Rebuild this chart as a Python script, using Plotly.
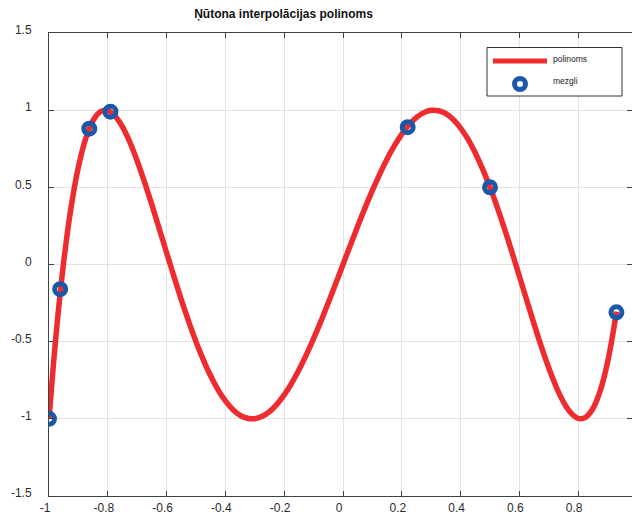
import plotly.graph_objects as go

# Interpolation nodes (mezgli)
node_x = [-1.0, -0.962, -0.863, -0.791, 0.22, 0.50, 0.93]
node_y = [-1.0, -0.16, 0.88, 0.99, 0.89, 0.50, -0.31]

# Sampled values of the interpolation polynomial (polinoms)
poly_x = [-1.0, -0.975, -0.95, -0.925, -0.9, -0.875, -0.85, -0.825, -0.8, -0.775,
          -0.75, -0.725, -0.7, -0.675, -0.65, -0.625, -0.6, -0.575, -0.55, -0.525,
          -0.5, -0.475, -0.45, -0.425, -0.4, -0.375, -0.35, -0.325, -0.3, -0.275,
          -0.25, -0.225, -0.2, -0.175, -0.15, -0.125, -0.1, -0.075, -0.05, -0.025,
          0.0, 0.025, 0.05, 0.075, 0.1, 0.125, 0.15, 0.175, 0.2, 0.225,
          0.25, 0.275, 0.3, 0.325, 0.35, 0.375, 0.4, 0.425, 0.45, 0.475,
          0.5, 0.525, 0.55, 0.575, 0.6, 0.625, 0.65, 0.675, 0.7, 0.725,
          0.75, 0.775, 0.8, 0.825, 0.85, 0.875, 0.9, 0.925, 0.93]
poly_y = [-1.0, -0.435, 0.017, 0.369, 0.632, 0.817, 0.933, 0.990, 0.997, 0.961,
          0.891, 0.792, 0.671, 0.534, 0.386, 0.232, 0.076, -0.078, -0.228, -0.369,
          -0.500, -0.618, -0.723, -0.812, -0.884, -0.939, -0.977, -0.996, -0.999, -0.984,
          -0.953, -0.906, -0.845, -0.770, -0.684, -0.586, -0.480, -0.367, -0.248, -0.125,
          0.0, 0.125, 0.248, 0.367, 0.480, 0.586, 0.684, 0.770, 0.845, 0.906,
          0.953, 0.984, 0.999, 0.996, 0.977, 0.939, 0.884, 0.812, 0.723, 0.618,
          0.500, 0.369, 0.228, 0.078, -0.076, -0.232, -0.386, -0.534, -0.671, -0.792,
          -0.891, -0.961, -0.997, -0.990, -0.933, -0.817, -0.632, -0.369, -0.306]

x_ticks = [-1, -0.8, -0.6, -0.4, -0.2, 0, 0.2, 0.4, 0.6, 0.8]
x_tick_text = ["-1", "-0.8", "-0.6", "-0.4", "-0.2", "0", "0.2", "0.4", "0.6", "0.8"]
y_ticks = [-1.5, -1, -0.5, 0, 0.5, 1, 1.5]
y_tick_text = ["-1.5", "-1", "-0.5", "0", "0.5", "1", "1.5"]

RED = "#EE2C30"
BLUE = "#1C58A8"
AXIS = "#3A4547"
FONT = "Liberation Sans, Arial, sans-serif"

W, H = 632, 515
L, R, T, B = 49, 0, 33, 19
PW, PH = W - L - R, H - T - B


def px(x):
    return (x - L) / PW


def py(y):
    return (H - B - y) / PH


fig = go.Figure()
fig.add_trace(go.Scatter(
    x=poly_x, y=poly_y, mode="lines", name="polinoms",
    line=dict(color=RED, width=5.5, shape="spline", smoothing=1.0),
))
fig.add_trace(go.Scatter(
    x=node_x, y=node_y, mode="markers", name="mezgli",
    marker=dict(symbol="circle-open", size=11, color=BLUE,
                line=dict(width=5, color=BLUE)),
))

# Legend box drawn in the upper-right corner of the axes
shapes = [
    dict(type="rect", xref="paper", yref="paper",
         x0=px(487), x1=px(622), y0=py(96), y1=py(47.5),
         line=dict(color="#333333", width=1), fillcolor="white", layer="above"),
    dict(type="line", xref="paper", yref="paper",
         x0=px(493), x1=px(547), y0=py(61), y1=py(61),
         line=dict(color=RED, width=5), layer="above"),
    dict(type="circle", xref="paper", yref="paper",
         x0=px(514.5), x1=px(525.5), y0=py(89.5), y1=py(78.5),
         line=dict(color=BLUE, width=5), fillcolor="white", layer="above"),
]
annotations = [
    dict(text="polinoms", xref="paper", yref="paper", x=px(551), y=py(59.5),
         xanchor="left", yanchor="middle", showarrow=False,
         font=dict(family=FONT, size=8.5, color="#222222")),
    dict(text="mezgli", xref="paper", yref="paper", x=px(551), y=py(81),
         xanchor="left", yanchor="middle", showarrow=False,
         font=dict(family=FONT, size=8.5, color="#222222")),
]

fig.update_layout(
    width=W, height=H,
    margin=dict(l=L, r=R, t=T, b=B, pad=0, autoexpand=False),
    paper_bgcolor="white", plot_bgcolor="white",
    showlegend=False,
    title=dict(text="<b>Ņūtona interpolācijas polinoms</b>",
               x=283.5 / W, xanchor="center", xref="container",
               y=1 - 14 / H, yanchor="middle", yref="container",
               font=dict(family=FONT, size=12, color="#111111")),
    font=dict(family=FONT, size=12, color="#2b2b2b"),
    shapes=shapes,
    annotations=annotations,
)
fig.update_xaxes(
    automargin=False,
    range=[-1, -1 + PW / 294.0],
    tickvals=x_ticks, ticktext=x_tick_text,
    showgrid=True, gridcolor="#E2E2E2", gridwidth=1,
    zeroline=False,
    showline=True, linecolor=AXIS, linewidth=1, mirror="ticks",
    ticks="inside", ticklen=5, tickcolor=AXIS,
    ticklabelshift=-4, ticklabelstandoff=1,
    tickfont=dict(family=FONT, size=12, color="#2b2b2b"),
)
fig.update_yaxes(
    automargin=False,
    range=[-1.5, 1.5],
    tickvals=y_ticks, ticktext=y_tick_text,
    showgrid=True, gridcolor="#E2E2E2", gridwidth=1,
    zeroline=False,
    showline=True, linecolor=AXIS, linewidth=1, mirror="ticks",
    ticks="inside", ticklen=5, tickcolor=AXIS,
    ticklabelshift=-3, ticklabelstandoff=14,
    tickfont=dict(family=FONT, size=12, color="#2b2b2b"),
)

fig.write_html("out.html")
